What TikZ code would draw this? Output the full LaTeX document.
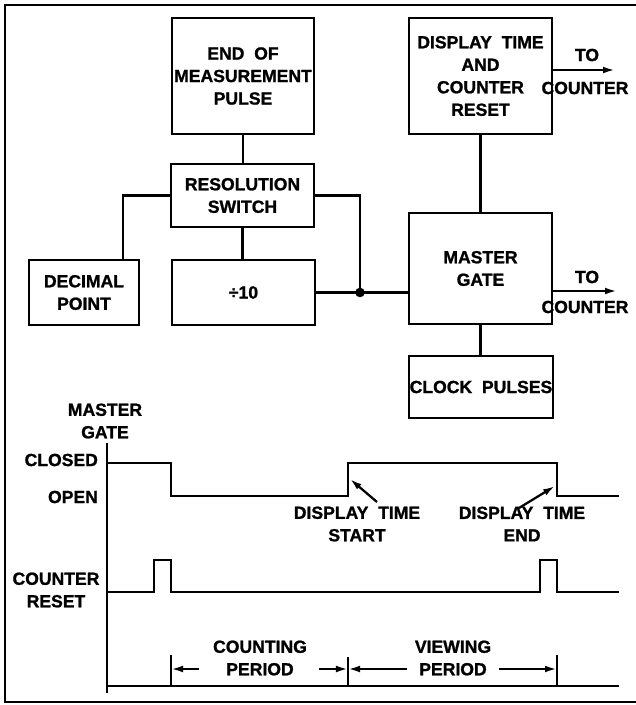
\documentclass[tikz,border=0pt]{standalone}
\usepackage{fontspec}
\setmainfont{Liberation Sans}[BoldFeatures={FakeBold=1.2}]
\usetikzlibrary{arrows.meta, calc}

\begin{document}
\begin{tikzpicture}[x=0.025cm, y=-0.025cm, >={Latex[length=3mm,width=1.7mm]},
    line width=1.6pt, font=\bfseries\fontsize{12.5}{16}\selectfont,
    box/.style={draw, align=center, inner sep=0pt},
    lbl/.style={align=center, inner sep=0pt}]
    \useasboundingbox (0,0) rectangle (636,705);
    % frame
    \draw (640,5) -- (5,5) -- (5,702) -- (640,702);

    % block diagram
    \node[box, minimum width=142*0.025cm, minimum height=116*0.025cm] (eom) at (243,76) {END\ \ OF\\MEASUREMENT\\PULSE};
    \node[box, minimum width=143*0.025cm, minimum height=116*0.025cm] (dtr) at (480.5,76) {DISPLAY\ \ TIME\\AND\\COUNTER\\RESET};
    \node[box, minimum width=143*0.025cm, minimum height=63*0.025cm] (res) at (242.5,195.5) {RESOLUTION\\SWITCH};
    \node[box, minimum width=110*0.025cm, minimum height=65*0.025cm] (dec) at (84,292.5) {DECIMAL\\POINT};
    \node[box, minimum width=143*0.025cm, minimum height=65*0.025cm] (div) at (243.5,292.5) {÷10};
    \node[box, minimum width=143*0.025cm, minimum height=111*0.025cm] (mg) at (480.5,268.5) {MASTER\\GATE};
    \node[box, minimum width=144*0.025cm, minimum height=62*0.025cm] (clk) at (481,387) {CLOCK\ \ PULSES};

    \coordinate (jn) at (360,292.5);
    \coordinate (outA) at (615,70);
    \coordinate (outB) at (617,291);

    \draw (eom.south) -- (eom.south |- res.north);
    \draw (res.south) -- (res.south |- div.north);
    \draw (res.west) -| ($(dec.north)+(39,0)$);
    \draw (res.east) -| (jn);
    \draw (div.east) -- (jn) -- (jn -| mg.west);
    \fill (jn) circle[radius=1.2mm];
    \draw (dtr.south) -- (dtr.south |- mg.north);
    \draw (mg.south) -- (mg.south |- clk.north);
    \draw[->] (dtr.east |- outA) -- (outA);
    \draw[->] (mg.east |- outB) -- (outB);
    \node[lbl] (toA) at (587,55) {TO};
    \node[lbl] (cntA) at (585,88) {COUNTER};
    \node[lbl] (toB) at (587,277) {TO};
    \node[lbl] (cntB) at (585,307) {COUNTER};

    % timing diagram
    \node[lbl] (mglbl) at (105,421) {MASTER\\GATE};
    \node[lbl, anchor=east] (closed) at (99,460) {CLOSED};
    \node[lbl, anchor=east] (open) at (99,497) {OPEN};
    \node[lbl] (crlbl) at (56,590) {COUNTER\\RESET};
    \draw (107,443) -- (107,693);
    \draw (107,686) -- (619,686);
    \draw (107,463) -| (171,496) -| (348,463) -| (557,496) -- (619,496);
    \draw (107,592) -| (154,560) -| (171,592) -| (540,560) -| (557,592) -- (619,592);

    \node[lbl] (dts) at (357,524) {DISPLAY\ \ TIME\\START};
    \node[lbl] (dte) at (522,524) {DISPLAY\ \ TIME\\END};
    \coordinate (dtsA) at (377,502);
    \coordinate (dtsB) at (350,479);
    \coordinate (dteA) at (519,508);
    \coordinate (dteB) at (555,486);
    \draw[->] (dtsA) -- (dtsB);
    \draw[->] (dteA) -- (dteB);

    \draw (171,655) -- (171,686);
    \draw (348,657) -- (348,686);
    \draw (557,655) -- (557,686);
    \draw[->] (199,669) -- (171,669);
    \draw[->] (319,669) -- (348,669);
    \draw[->] (407,669) -- (348,669);
    \draw[->] (499,669) -- (557,669);
    \node[lbl] (cnt) at (260,658) {COUNTING\\PERIOD};
    \node[lbl] (vw) at (453,658) {VIEWING\\PERIOD};
\end{tikzpicture}
\end{document}
